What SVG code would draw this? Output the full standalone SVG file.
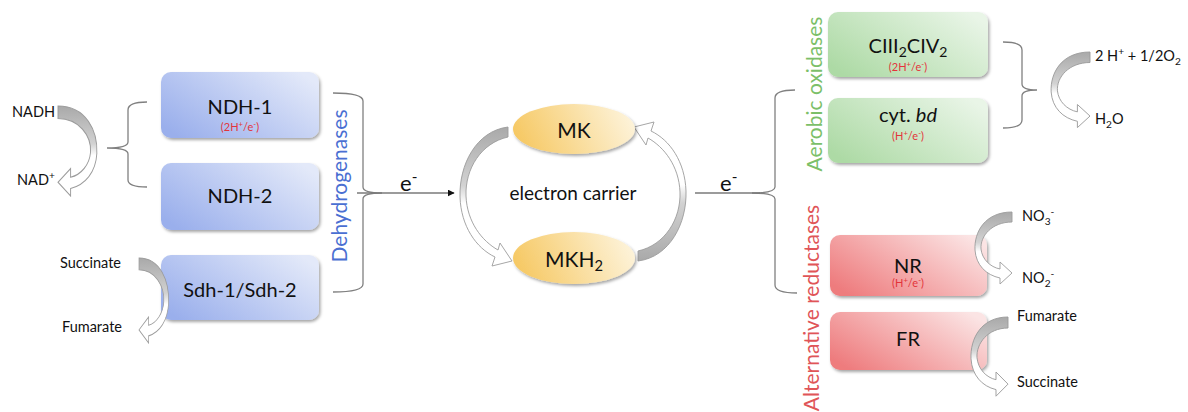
<svg xmlns="http://www.w3.org/2000/svg" width="1188" height="412" viewBox="0 0 1188 412">
  <defs>
    <linearGradient id="gBlue" x1="0" y1="0.8" x2="1" y2="0.2">
      <stop offset="0" stop-color="#9aafec"/>
      <stop offset="1" stop-color="#e3e9f9"/>
    </linearGradient>
    <linearGradient id="gGreen" x1="0" y1="0.8" x2="1" y2="0.2">
      <stop offset="0" stop-color="#addaa5"/>
      <stop offset="1" stop-color="#e9f5e7"/>
    </linearGradient>
    <linearGradient id="gRed" x1="0" y1="0.8" x2="1" y2="0.2">
      <stop offset="0" stop-color="#ee7b7d"/>
      <stop offset="1" stop-color="#fbe4e4"/>
    </linearGradient>
    <linearGradient id="gYellow" x1="0" y1="0.6" x2="1" y2="0.4">
      <stop offset="0" stop-color="#f6c862"/>
      <stop offset="1" stop-color="#fdf3da"/>
    </linearGradient>
    <linearGradient id="gArrow" x1="0" y1="0" x2="0" y2="1">
      <stop offset="0" stop-color="#a9a9a9"/>
      <stop offset="0.42" stop-color="#d2d2d2"/>
      <stop offset="0.55" stop-color="#ffffff"/>
      <stop offset="1" stop-color="#ffffff"/>
    </linearGradient>
    <filter id="shadow" x="-10%" y="-10%" width="125%" height="135%">
      <feDropShadow dx="1.5" dy="2" stdDeviation="1.6" flood-color="#000" flood-opacity="0.35"/>
    </filter>
    <marker id="tri" viewBox="0 0 10 10" refX="9" refY="5" markerWidth="7" markerHeight="7" markerUnits="userSpaceOnUse" orient="auto">
      <path d="M0 0 L10 5 L0 10 Z" fill="#111"/>
    </marker>
    <!-- curved block arrow: starts at origin, bulges left, tip points right -->
    <path id="curl" d="M 0 0 C -27 0 -38 20 -37 38 C -36 53 -26 63 -12 66 L -12 72 L 0 61 L -12 50 L -12 57 C -22 55 -30 47 -31 37 C -32 24 -20 10 0 10 Z"/>
  </defs>
  <style>
    text { font-family: Lato, "Liberation Sans", sans-serif; fill: #111; }
    .name { font-size: 20px; text-anchor: middle; }
    .chem { font-size: 14.5px; }
    .ratio { font-size: 11px; fill: #e3343b; text-anchor: middle; }
    .vert { font-size: 21px; text-anchor: middle; }
    .sub { font-size: 70%; }
    .blue { fill: url(#gBlue); }
    .green { fill: url(#gGreen); }
    .red { fill: url(#gRed); }
    .boxshape { filter: url(#shadow); }
    .brace { fill: none; stroke: #808080; stroke-width: 1.3; }
    .curl { fill: url(#gArrow); stroke: #9c9c9c; stroke-width: 0.9; }
    .carrier { fill: url(#gYellow); filter: url(#shadow); }
  </style>

  <!-- dehydrogenases -->
  <g id="ndh1">
    <rect class="blue boxshape" x="161" y="72" width="158" height="66" rx="10"/>
    <text class="name" x="240" y="114">NDH-1</text>
    <text class="ratio" x="240" y="131">(2H<tspan class="sub" dy="-4">+</tspan><tspan dy="4">/e</tspan><tspan class="sub" dy="-4">-</tspan><tspan dy="4">)</tspan></text>
  </g>
  <g id="ndh2">
    <rect class="blue boxshape" x="161" y="163" width="158" height="67" rx="10"/>
    <text class="name" x="240" y="203">NDH-2</text>
  </g>
  <g id="sdh">
    <rect class="blue boxshape" x="161" y="255" width="158" height="65" rx="10"/>
    <text class="name" x="240" y="297">Sdh-1/Sdh-2</text>
  </g>
  <g id="dehydrogenases-label">
    <text class="vert" style="fill:#4a6fd2" transform="translate(347 186) rotate(-90)">Dehydrogenases</text>
  </g>

  <!-- substrates on the left -->
  <g id="nadh">
    <text class="chem" x="12" y="117">NADH</text>
    <text class="chem" x="17" y="185">NAD<tspan class="sub" dy="-6">+</tspan></text>
    <use href="#curl" class="curl" transform="translate(58 106) scale(-1.05 1.25)"/>
  </g>
  <g id="succinate-left">
    <text class="chem" x="60" y="268">Succinate</text>
    <text class="chem" x="62" y="332">Fumarate</text>
    <use href="#curl" class="curl" transform="translate(139 258) scale(-0.8 1.18)"/>
  </g>

  <!-- menaquinone pool -->
  <g id="carrier-cycle">
    <path class="curl" d="M 508 127 C 476 131 459 165 460 197 C 461 226 476 248 495 257 L 492 266 L 512 261 L 500 243 L 498 250 C 482 241 467 222 466 196 C 465 169 481 143 508 137 Z"/>
    <path class="curl" transform="rotate(180 573 194)" d="M 508 127 C 476 131 459 165 460 197 C 461 226 476 248 495 257 L 492 266 L 512 261 L 500 243 L 498 250 C 482 241 467 222 466 196 C 465 169 481 143 508 137 Z"/>
    <text x="573" y="200" style="font-size:19px" text-anchor="middle">electron carrier</text>
  </g>
  <g id="mk">
    <ellipse class="carrier" cx="574" cy="129" rx="61" ry="25"/>
    <text class="name" x="574" y="138" style="font-size:21px">MK</text>
  </g>
  <g id="mkh2">
    <ellipse class="carrier" cx="574" cy="258" rx="61" ry="26"/>
    <text class="name" x="574" y="267" style="font-size:21px">MKH<tspan class="sub" dy="4">2</tspan></text>
  </g>

  <!-- aerobic oxidases -->
  <g id="aerobic-label">
    <text class="vert" style="fill:#7cbf69" transform="translate(822 94) rotate(-90)">Aerobic oxidases</text>
  </g>
  <g id="ciii2civ2">
    <rect class="green boxshape" x="828" y="12" width="160" height="65" rx="10"/>
    <text class="name" x="908" y="53">CIII<tspan class="sub" dy="4">2</tspan><tspan dy="-4">CIV</tspan><tspan class="sub" dy="4">2</tspan></text>
    <text class="ratio" x="908" y="71">(2H<tspan class="sub" dy="-4">+</tspan><tspan dy="4">/e</tspan><tspan class="sub" dy="-4">-</tspan><tspan dy="4">)</tspan></text>
  </g>
  <g id="cyt-bd">
    <rect class="green boxshape" x="828" y="98" width="160" height="65" rx="10"/>
    <text class="name" x="908" y="122">cyt. <tspan font-style="italic">bd</tspan></text>
    <text class="ratio" x="908" y="140">(H<tspan class="sub" dy="-4">+</tspan><tspan dy="4">/e</tspan><tspan class="sub" dy="-4">-</tspan><tspan dy="4">)</tspan></text>
  </g>
  <g id="oxygen">
    <text class="chem" x="1095" y="61">2 H<tspan class="sub" dy="-6">+</tspan><tspan dy="6"> + 1/2O</tspan><tspan class="sub" dy="4">2</tspan></text>
    <text class="chem" x="1095" y="124">H<tspan class="sub" dy="4">2</tspan><tspan dy="-4">O</tspan></text>
    <use href="#curl" class="curl" transform="translate(1090 52) scale(1.05 1.05)"/>
  </g>

  <!-- alternative reductases -->
  <g id="alternative-label">
    <text class="vert" style="fill:#e05558" transform="translate(819 308) rotate(-90)">Alternative reductases</text>
  </g>
  <g id="nr">
    <rect class="red boxshape" x="830" y="235" width="157" height="61" rx="10"/>
    <text class="name" x="908" y="273">NR</text>
    <text class="ratio" x="908" y="287">(H<tspan class="sub" dy="-4">+</tspan><tspan dy="4">/e</tspan><tspan class="sub" dy="-4">-</tspan><tspan dy="4">)</tspan></text>
  </g>
  <g id="nitrate">
    <text class="chem" x="1022" y="221">NO<tspan class="sub" dy="4">3</tspan><tspan class="sub" dy="-10">-</tspan></text>
    <text class="chem" x="1022" y="283">NO<tspan class="sub" dy="4">2</tspan><tspan class="sub" dy="-10">-</tspan></text>
    <use href="#curl" class="curl" transform="translate(1012 212)"/>
  </g>
  <g id="fr">
    <rect class="red boxshape" x="830" y="312" width="157" height="58" rx="10"/>
    <text class="name" x="908" y="346">FR</text>
  </g>
  <g id="fumarate-right">
    <text class="chem" x="1017" y="321">Fumarate</text>
    <text class="chem" x="1017" y="387">Succinate</text>
    <use href="#curl" class="curl" transform="translate(1008 317) scale(1 1.1)"/>
  </g>

  <!-- braces and electron flow -->
  <g id="connectors">
    <path class="brace" d="M 147 102 Q 128 102 128 110 L 128 142 Q 128 148 107 148 Q 128 148 128 154 L 128 180 Q 128 187 147 187"/>
    <path class="brace" d="M 333 93 Q 363 93 363 101 L 363 187 Q 363 193 382 193 Q 363 193 363 199 L 363 284 Q 363 292 333 292"/>
    <line x1="357" y1="193" x2="454" y2="193" stroke="#7a7a7a" stroke-width="1.3" marker-end="url(#tri)"/>
    <text x="400" y="191" style="font-size:22px">e<tspan class="sub" dy="-9">-</tspan></text>
    <path class="brace" d="M 795 90 Q 775 90 775 98 L 775 187 Q 775 193 752 193 Q 775 193 775 199 L 775 285 Q 775 293 797 293"/>
    <line x1="695" y1="193" x2="760" y2="193" stroke="#7a7a7a" stroke-width="1.3"/>
    <text x="720" y="191" style="font-size:22px">e<tspan class="sub" dy="-9">-</tspan></text>
    <path class="brace" d="M 1003 42 Q 1022 42 1022 50 L 1022 84 Q 1022 90 1037 90 Q 1022 90 1022 96 L 1022 120 Q 1022 128 1003 128"/>
  </g>
</svg>
